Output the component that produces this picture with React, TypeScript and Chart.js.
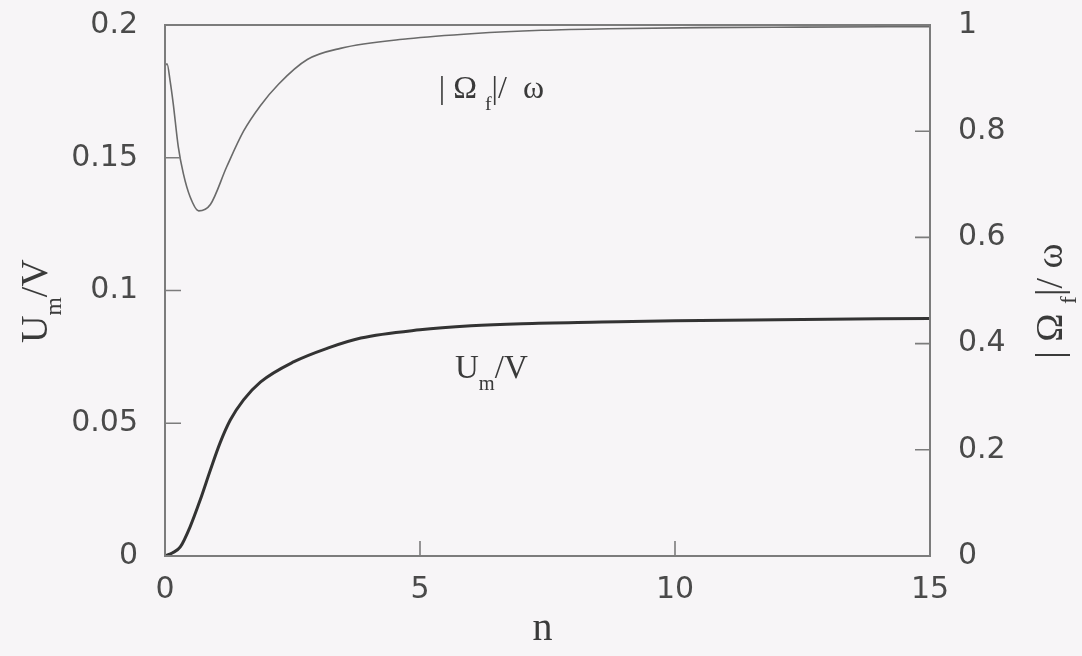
import React, { useEffect, useRef } from "react";
import { Chart, registerables } from "chart.js";

Chart.register(...registerables);

// |Ω_f| / ω against n (right axis)
const omegaN = [0, 0.04, 0.1, 0.16, 0.26, 0.36, 0.49, 0.66, 0.89, 1.21, 1.54, 1.87, 2.23, 2.79, 3.44, 4.76, 6.07, 7.38, 8.69, 10.5, 12.5, 15];
const omegaRatio = [0.923, 0.927, 0.895, 0.853, 0.771, 0.72, 0.677, 0.65, 0.662, 0.733, 0.8, 0.848, 0.889, 0.935, 0.956, 0.974, 0.984, 0.99, 0.993, 0.995, 0.996, 0.997];

// U_m / V against n (left axis)
const umN = [0, 0.15, 0.3, 0.49, 0.69, 0.89, 1.08, 1.28, 1.54, 1.87, 2.52, 3.19, 3.84, 5, 6, 7, 8.56, 10, 12, 15];
const umRatio = [0, 0.0012, 0.0034, 0.0109, 0.0211, 0.0324, 0.0426, 0.0512, 0.0588, 0.0655, 0.0731, 0.0783, 0.0821, 0.0852, 0.0867, 0.0875, 0.0881, 0.0886, 0.089, 0.0895];

// Axis ticks
const xTicks = [0, 5, 10, 15];
const leftTicks = [0, 0.05, 0.1, 0.15, 0.2];
const rightTicks = [0, 0.2, 0.4, 0.6, 0.8, 1];
const xInnerTicks = [5, 10];
const leftInnerTicks = [0.05, 0.1, 0.15];
const rightInnerTicks = [0.2, 0.4, 0.6, 0.8];

const W = 1082;
const H = 656;
const TICK_FONT = "DejaVu Sans";
const SERIF = "'Liberation Serif', 'DejaVu Serif', serif";
const INK = "#4a4a4a";
const FRAME = "#7c7c7c";

type Part = { text: string; sub?: boolean };

// Draws text with subscripts, centred horizontally on x, baseline at y.
function drawRich(ctx: CanvasRenderingContext2D, parts: Part[], x: number, y: number, size: number) {
  const subSize = size * 0.62;
  const widths = parts.map((p) => {
    ctx.font = `${p.sub ? subSize : size}px ${SERIF}`;
    return ctx.measureText(p.text).width;
  });
  const total = widths.reduce((a, b) => a + b, 0);
  let cx = x - total / 2;
  ctx.textAlign = "left";
  ctx.textBaseline = "alphabetic";
  parts.forEach((p, i) => {
    ctx.font = `${p.sub ? subSize : size}px ${SERIF}`;
    ctx.fillText(p.text, cx, p.sub ? y + size * 0.36 : y);
    cx += widths[i];
  });
}

const framePlugin = {
  id: "frameAndLabels",
  afterDraw(chart: any) {
    const { ctx, chartArea: a, scales } = chart;
    const xs = scales.x;
    const yl = scales.y;
    const yr = scales.y1;
    ctx.save();
    ctx.strokeStyle = FRAME;
    ctx.lineWidth = 2;
    ctx.strokeRect(a.left, a.top, a.right - a.left, a.bottom - a.top);

    ctx.lineWidth = 1.6;
    ctx.beginPath();
    leftInnerTicks.forEach((v) => {
      const py = yl.getPixelForValue(v);
      ctx.moveTo(a.left, py);
      ctx.lineTo(a.left + 16, py);
    });
    rightInnerTicks.forEach((v) => {
      const py = yr.getPixelForValue(v);
      ctx.moveTo(a.right, py);
      ctx.lineTo(a.right - 15, py);
    });
    xInnerTicks.forEach((v) => {
      const px = xs.getPixelForValue(v);
      ctx.moveTo(px, a.bottom);
      ctx.lineTo(px, a.bottom - 15);
    });
    ctx.stroke();

    ctx.fillStyle = "#3a3a3a";
    // curve labels
    drawRich(ctx, [{ text: "| Ω " }, { text: "f", sub: true }, { text: "|/  ω" }], xs.getPixelForValue(6.4), yr.getPixelForValue(0.862), 32);
    drawRich(ctx, [{ text: "U" }, { text: "m", sub: true }, { text: "/V" }], xs.getPixelForValue(6.4), yl.getPixelForValue(0.067), 33);

    // x axis title
    ctx.font = `40px ${SERIF}`;
    ctx.textAlign = "center";
    ctx.textBaseline = "alphabetic";
    ctx.fillText("n", (a.left + a.right) / 2 - 5, 640);

    // left axis title
    ctx.save();
    ctx.translate(47, yl.getPixelForValue(0.096));
    ctx.rotate(-Math.PI / 2);
    drawRich(ctx, [{ text: "U" }, { text: "m", sub: true }, { text: "/V" }], 0, 0, 38);
    ctx.restore();

    // right axis title
    ctx.save();
    ctx.translate(1062, yr.getPixelForValue(0.48));
    ctx.rotate(-Math.PI / 2);
    drawRich(ctx, [{ text: "| Ω " }, { text: "f", sub: true }, { text: "|/ ω" }], 0, 0, 38);
    ctx.restore();

    ctx.restore();
  },
};

export default function App() {
  const canvasRef = useRef<HTMLCanvasElement | null>(null);

  useEffect(() => {
    const canvas = canvasRef.current;
    if (!canvas) return;
    const tickFont = { family: TICK_FONT, size: 30 };
    const noPad = (s: any) => {
      s.paddingTop = 0;
      s.paddingBottom = 0;
      s.paddingLeft = 0;
      s.paddingRight = 0;
    };
    const chart = new Chart(canvas, {
      type: "line",
      data: {
        datasets: [
          {
            label: "|Ω_f|/ω",
            data: omegaN.map((n, i) => ({ x: n, y: omegaRatio[i] })),
            yAxisID: "y1",
            borderColor: "#6a6a6a",
            borderWidth: 1.6,
            pointRadius: 0,
            cubicInterpolationMode: "monotone",
          },
          {
            label: "U_m/V",
            data: umN.map((n, i) => ({ x: n, y: umRatio[i] })),
            yAxisID: "y",
            borderColor: "#333333",
            borderWidth: 3,
            pointRadius: 0,
            cubicInterpolationMode: "monotone",
          },
        ],
      },
      options: {
        animation: false,
        responsive: false,
        devicePixelRatio: 1,
        layout: { padding: { top: 25, left: 0, right: 0, bottom: 0 } },
        plugins: { legend: { display: false }, tooltip: { enabled: false } },
        scales: {
          x: {
            type: "linear",
            min: 0,
            max: 15,
            grid: { display: false, drawTicks: false },
            border: { display: false },
            afterBuildTicks: (s: any) => {
              s.ticks = xTicks.map((v) => ({ value: v }));
            },
            afterFit: (s: any) => {
              s.height = 100;
              noPad(s);
            },
            ticks: { font: tickFont, color: INK, padding: 16, maxRotation: 0, autoSkip: false, callback: (v: any) => String(v) },
          },
          y: {
            type: "linear",
            position: "left",
            min: 0,
            max: 0.2,
            grid: { display: false, drawTicks: false },
            border: { display: false },
            afterBuildTicks: (s: any) => {
              s.ticks = leftTicks.map((v) => ({ value: v }));
            },
            afterFit: (s: any) => {
              s.width = 165;
              noPad(s);
            },
            ticks: { font: tickFont, color: INK, padding: 27, autoSkip: false, callback: (v: any) => String(v) },
          },
          y1: {
            type: "linear",
            position: "right",
            min: 0,
            max: 1,
            grid: { display: false, drawTicks: false },
            border: { display: false },
            afterBuildTicks: (s: any) => {
              s.ticks = rightTicks.map((v) => ({ value: v }));
            },
            afterFit: (s: any) => {
              s.width = 152;
              noPad(s);
            },
            ticks: { font: tickFont, color: INK, padding: 28, autoSkip: false, callback: (v: any) => String(v) },
          },
        },
      },
      plugins: [framePlugin],
    } as any);
    return () => chart.destroy();
  }, []);

  return (
    <div style={{ position: "fixed", left: 0, top: 0, width: W, height: H, background: "#f7f5f7" }}>
      <canvas ref={canvasRef} width={W} height={H} style={{ display: "block" }} />
    </div>
  );
}
